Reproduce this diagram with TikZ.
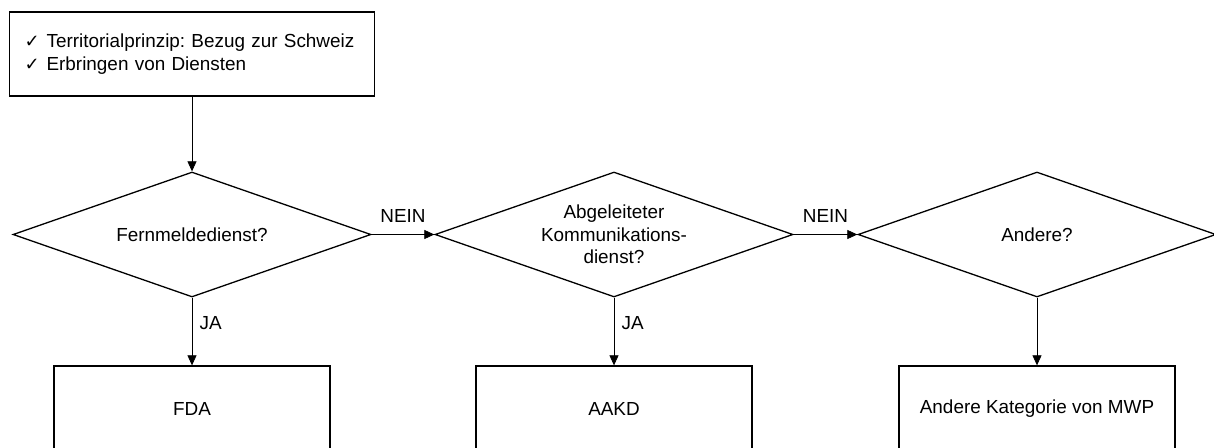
\documentclass[tikz,border=0pt]{standalone}
\usepackage{fontspec}
\setmainfont{Liberation Sans}
\newfontfamily\symfont{DejaVu Sans}
\usetikzlibrary{shapes.geometric,arrows.meta}
\newcommand{\chk}{{\symfont\fontsize{18}{18}\selectfont ✓}\hspace{7pt}}
\frenchspacing

\begin{document}
\begin{tikzpicture}[
    x=1pt, y=-1pt,
    font=\fontsize{18.9}{22.7}\selectfont,
    box/.style={draw, line width=1.3pt, minimum width=276pt, minimum height=86pt},
    decision/.style={diamond, draw, line width=1.3pt, aspect=2.864, inner sep=0pt,
      minimum width=358pt, minimum height=125pt, align=center},
    conn/.style={-{Triangle[length=10pt,width=9pt]}, line width=0.7pt},
    nlabel/.style={midway,above=8pt},
    jlabel/.style={pos=0.38,right=4pt}
    ]
    \useasboundingbox (0,0) rectangle (1214,447);
	\node [draw, line width=1.3pt, minimum height=84pt, text width=335pt, inner xsep=15pt, align=left]
		(start) at (192,54) {\chk Territorialprinzip: Bezug zur Schweiz\\\chk Erbringen von Diensten};
	\node [decision] (fern) at (192,234.5) {Fernmeldedienst?};
	\node [decision] (abgel) at (614,234.5) {Abgeleiteter\\Kommunikations-\\dienst?};
	\node [decision] (andere) at (1037,234.5) {Andere?};
	\node [box] (fda) at (192,409) {FDA};
	\node [box] (aakd) at (614,409) {AAKD};
	\node [box] (mwp) at (1037,409) {Andere Kategorie von MWP};
	% connectors
	\draw [conn] (start) -- (fern);
	\draw [conn] (fern) -- (abgel) node[nlabel]{NEIN};
	\draw [conn] (abgel) -- (andere) node[nlabel]{NEIN};
	\draw [conn] (fern) -- (fda) node[jlabel]{JA};
	\draw [conn] (abgel) -- (aakd) node[jlabel]{JA};
	\draw [conn] (andere) -- (mwp);
\end{tikzpicture}
\end{document}
